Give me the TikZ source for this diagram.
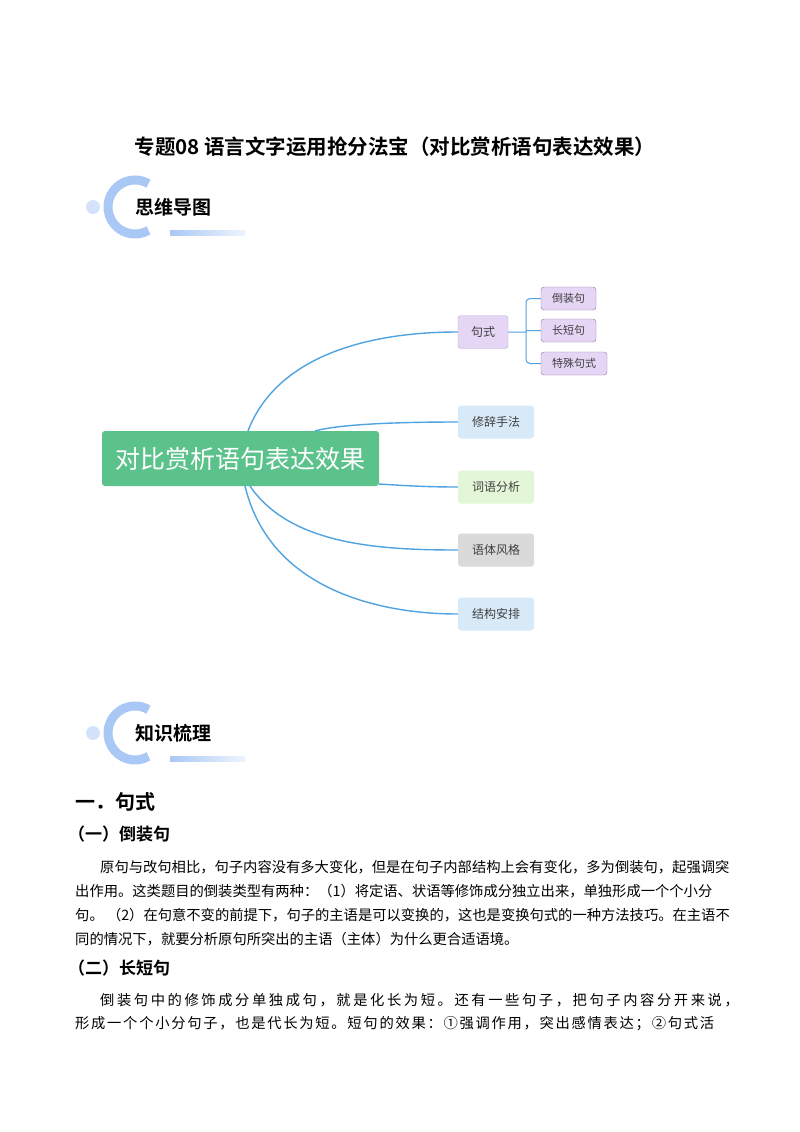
\documentclass[tikz,border=0pt]{standalone}
\usepackage{fontspec}
\setmainfont{Noto Sans CJK SC}
\newfontfamily\cjkb{Noto Sans CJK SC Bold}
\definecolor{lk}{HTML}{4FA3E0}
\definecolor{cgreen}{HTML}{5CC28C}
\definecolor{lav}{HTML}{E6D6F6}
\definecolor{lavb}{HTML}{8E7AA8}
\definecolor{lblue}{HTML}{D8EAF8}
\definecolor{lgreen}{HTML}{E3F6D8}
\definecolor{lgray}{HTML}{DADADA}
\definecolor{ring}{HTML}{A9C8F5}
\tikzset{
 br/.style={rounded corners=3pt,minimum height=33pt,inner sep=0pt,font=\fontsize{12}{12}\selectfont,text=black!75},
 sub/.style={rounded corners=3pt,fill=lav,draw=lavb,minimum height=23pt,inner sep=0pt,font=\fontsize{11}{11}\selectfont,text=black!75},
 lnk/.style={draw=lk,line width=1.4pt},
 para/.style={anchor=west,inner sep=0pt,font=\fontsize{14.3}{14.3}\selectfont},
 hd/.style={anchor=west,inner sep=0pt,font=\cjkb}
}
\begin{document}
\begin{tikzpicture}[x=1pt,y=-1pt]
\useasboundingbox (0,0) rectangle (800,1132);
\fill[white] (0,0) rectangle (800,1132);
\node[font=\cjkb\fontsize{20.5}{20.5}\selectfont] (title) at (395,147) {专题08 语言文字运用抢分法宝（对比赏析语句表达效果）};
% headers
\foreach \yy/\tt/\nm in {207/思维导图/h1, 733/知识梳理/h2}{
 \fill[ring!50] (93,\yy) circle (7);
 \draw[ring,line width=9pt] (135,\yy)++(60:27) arc (60:300:27);
 \fill[left color=ring,right color=ring!20] (170,\yy+23) rectangle (245,\yy+28);
 \node[hd,font=\cjkb\fontsize{19}{19}\selectfont] (\nm) at (135,\yy) {\tt};
}
% mind map
\node[fill=cgreen,rounded corners=3pt,minimum width=277pt,minimum height=55pt,text=white,font=\fontsize{25}{25}\selectfont] (c) at (240.5,458.5) {对比赏析语句表达效果};
\node[br,fill=lav,draw=lavb!60,minimum width=50pt] (b1) at (483,332) {句式};
\node[br,fill=lblue,minimum width=76pt] (b2) at (496,422) {修辞手法};
\node[br,fill=lgreen,minimum width=76pt] (b3) at (496,487) {词语分析};
\node[br,fill=lgray,minimum width=76pt] (b4) at (496,550) {语体风格};
\node[br,fill=lblue,minimum width=76pt] (b5) at (496,614) {结构安排};
\node[sub,minimum width=55pt] (s1) at (568.5,298.5) {倒装句};
\node[sub,minimum width=55pt] (s2) at (568.5,330.5) {长短句};
\node[sub,minimum width=66pt] (s3) at (574,363.5) {特殊句式};
\draw[lnk] (248,431) .. controls (275,360) and (360,332) .. (b1.west);
\draw[lnk] (315,431) .. controls (340,424) and (400,422) .. (b2.west);
\draw[lnk] (379,484) .. controls (410,486) and (430,487) .. (b3.west);
\draw[lnk] (250,486) .. controls (290,545) and (380,550) .. (b4.west);
\draw[lnk] (245,486) .. controls (270,590) and (380,614) .. (b5.west);
\draw[lnk,line width=1pt,rounded corners=4pt] (b1.east) -- (526,332) (s1.west) -- (526,298.5) -- (526,363.5) -- (s3.west) (526,330.5) -- (s2.west);
% text
\node[hd,font=\cjkb\fontsize{20}{20}\selectfont] (t1) at (75,802) {一．句式};
\node[hd,font=\cjkb\fontsize{17}{17}\selectfont] (t2) at (68,834) {（一）倒装句};
\node[para] (p1) at (100,867) {原句与改句相比，句子内容没有多大变化，但是在句子内部结构上会有变化，多为倒装句，起强调突};
\node[para] (p2) at (75,891) {出作用。这类题目的倒装类型有两种：（1）将定语、状语等修饰成分独立出来，单独形成一个个小分};
\node[para] (p3) at (75,915) {句。\ （2）在句意不变的前提下，句子的主语是可以变换的，这也是变换句式的一种方法技巧。在主语不};
\node[para] (p4) at (75,939) {同的情况下，就要分析原句所突出的主语（主体）为什么更合适语境。};
\node[hd,font=\cjkb\fontsize{17}{17}\selectfont] (t3) at (68,968) {（二）长短句};
\node[para] (p5) at (100,1000) {\addfontfeature{LetterSpace=18}倒装句中的修饰成分单独成句，就是化长为短。还有一些句子，把句子内容分开来说，};
\node[para] (p6) at (75,1024) {\addfontfeature{LetterSpace=12}形成一个个小分句子，也是代长为短。短句的效果：①强调作用，突出感情表达；②句式活};
\end{tikzpicture}
\end{document}
